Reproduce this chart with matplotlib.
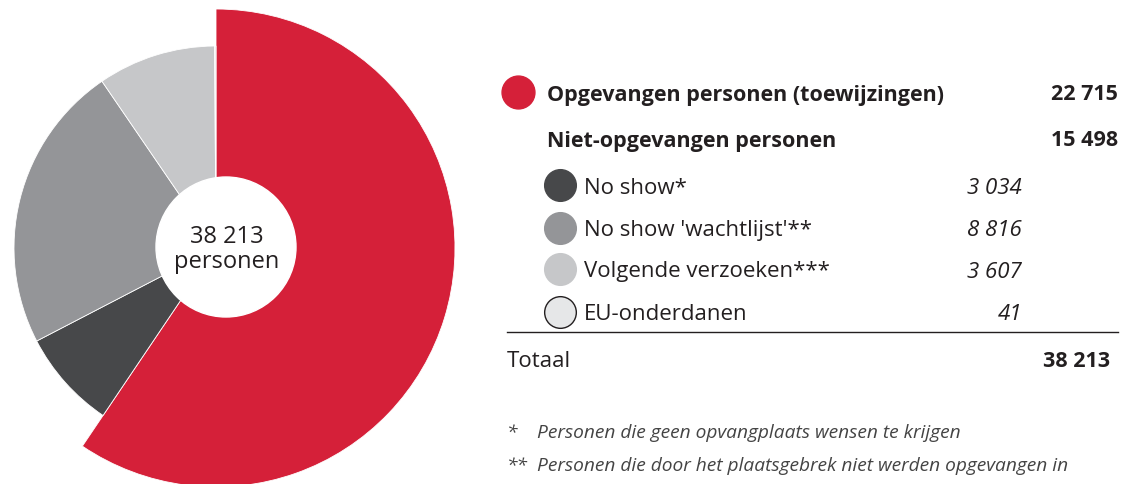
import matplotlib.pyplot as plt
from matplotlib.patches import Circle

# data
labels = ["Opgevangen personen (toewijzingen)", "No show*", "No show 'wachtlijst'**",
          "Volgende verzoeken***", "EU-onderdanen"]
values = [22715, 3034, 8816, 3607, 41]
colors = ["#d52039", "#47484a", "#949598", "#c6c7c9", "#e6e7e8"]
radii = [239, 202, 202, 202, 202]
group_label = "Niet-opgevangen personen"
total_label = "Totaal"
center_label = "personen"
footnotes = [("*", "Personen die geen opvangplaats wensen te krijgen"),
             ("**", "Personen die door het plaatsgebrek niet werden opgevangen in")]

plt.rcParams['font.family'] = ['Open Sans', 'DejaVu Sans']
txt = "#231f20"
W, H = 1122, 485


def fmt(v):
    return f"{v:,}".replace(",", " ")


def Y(y):
    # pixel row from top -> axes coordinate (text sits ~2px low in the original)
    return H - y


fig = plt.figure(figsize=(W / 100, H / 100), dpi=100)
ax = fig.add_axes([0, 0, 1, 1])

wedges, _ = ax.pie(values, colors=colors, startangle=90, counterclock=False,
                   center=(216, Y(249)), radius=239,
                   wedgeprops=dict(linewidth=0.6, edgecolor="white"))
for w, r in zip(wedges, radii):
    w.set_radius(r)

ax.add_patch(Circle((226, Y(248)), 70, color="white", zorder=3))
total = sum(values)
ax.text(227, Y(237), fmt(total), ha="center", va="center", fontsize=17, color=txt, zorder=4)
ax.text(227, Y(262), center_label, ha="center", va="center", fontsize=17, color=txt, zorder=4)

ax.set_xlim(0, W)
ax.set_ylim(0, H)
ax.set_aspect("equal")
ax.axis("off")

# legend table
ax.scatter([518], [Y(93)], s=560, color=colors[0], zorder=3)
ax.text(547, Y(95), labels[0], ha="left", va="center", fontsize=15.5, fontweight="bold", color=txt)
ax.text(1118, Y(95), fmt(values[0]), ha="right", va="center", fontsize=15.5, fontweight="bold", color=txt)

not_received = sum(values[1:])
ax.text(547, Y(141), group_label, ha="left", va="center", fontsize=15.5, fontweight="bold", color=txt)
ax.text(1118, Y(141), fmt(not_received), ha="right", va="center", fontsize=15.5, fontweight="bold", color=txt)

rows_y = [186, 229, 270, 313]
for i, y in enumerate(rows_y):
    k = i + 1
    ec = "#231f20" if k == 4 else colors[k]
    ax.scatter([560], [Y(y)], s=520, color=colors[k], edgecolors=ec, linewidths=1.0, zorder=3)
    ax.text(584, Y(y + 2), labels[k], ha="left", va="center", fontsize=16, color=txt)
    ax.text(1022, Y(y + 2), fmt(values[k]), ha="right", va="center", fontsize=16, style="italic", color=txt)

ax.plot([507, 1118], [Y(333), Y(333)], color=txt, linewidth=1.0)
ax.text(507, Y(362), total_label, ha="left", va="center", fontsize=16, color=txt)
ax.text(1110, Y(362), fmt(total), ha="right", va="center", fontsize=15.5, fontweight="bold", color=txt)

for (mark, note), y in zip(footnotes, [433, 466]):
    ax.text(507, Y(y), mark, ha="left", va="center", fontsize=13.8, style="italic", color="#444444")
    ax.text(537, Y(y), note, ha="left", va="center", fontsize=13.8, style="italic", color="#444444")

fig.savefig("out.png", dpi=100)
